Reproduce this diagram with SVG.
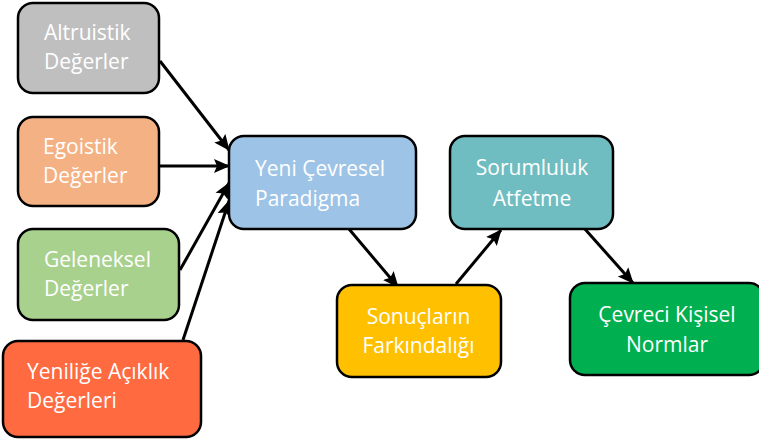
<svg xmlns="http://www.w3.org/2000/svg" width="759" height="442" viewBox="0 0 759 442">
<style>
.box{stroke:#000;stroke-width:2.5}
.t{font-family:"Open Sans","Liberation Sans",sans-serif;font-size:21px;fill:#fff}
.c{text-anchor:middle}
.a{stroke:#000;stroke-width:3;fill:none;marker-end:url(#ah)}
</style>
<defs>
<marker id="ah" markerUnits="userSpaceOnUse" markerWidth="16" markerHeight="16" viewBox="0 0 16 16" refX="15" refY="8" orient="auto">
<path d="M0,1 L16,8 L0,15 L3,8 Z" fill="#000"/>
</marker>
</defs>
<rect width="759" height="442" fill="#fff"/>
<g id="connectors">
<line class="a" x1="160" y1="61" x2="229" y2="150"/>
<line class="a" x1="159" y1="166" x2="229" y2="166"/>
<line class="a" x1="180" y1="270" x2="229" y2="183"/>
<line class="a" x1="183" y1="340" x2="229" y2="201"/>
<line class="a" x1="349" y1="229" x2="398" y2="287"/>
<line class="a" x1="456" y1="284" x2="501" y2="230"/>
<line class="a" x1="584" y1="228" x2="633" y2="283"/>
</g>
<g id="altruistik">
<rect class="box" x="18" y="3" width="141" height="90" rx="15" fill="#BFBFBF"/>
<text class="t" x="44" y="40">Altruistik</text>
<text class="t" x="44" y="69">Değerler</text>
</g>
<g id="egoistik">
<rect class="box" x="18" y="117" width="141" height="89" rx="15" fill="#F4B183"/>
<text class="t" x="43" y="154">Egoistik</text>
<text class="t" x="43" y="183">Değerler</text>
</g>
<g id="geleneksel">
<rect class="box" x="18" y="229" width="161" height="91" rx="15" fill="#A9D18E"/>
<text class="t" x="44" y="267">Geleneksel</text>
<text class="t" x="44" y="296">Değerler</text>
</g>
<g id="yenilige">
<rect class="box" x="3" y="341" width="198" height="96" rx="15" fill="#FF6A40"/>
<text class="t" x="27" y="379">Yeniliğe Açıklık</text>
<text class="t" x="27" y="408">Değerleri</text>
</g>
<g id="yeni-cevresel">
<rect class="box" x="229" y="136" width="187" height="93" rx="15" fill="#9DC3E6"/>
<text class="t" x="255" y="176">Yeni Çevresel</text>
<text class="t" x="255" y="206">Paradigma</text>
</g>
<g id="sonuclarin">
<rect class="box" x="337" y="285" width="164" height="92" rx="15" fill="#FFC000"/>
<text class="t c" x="418.5" y="324">Sonuçların</text>
<text class="t c" x="418.5" y="353">Farkındalığı</text>
</g>
<g id="sorumluluk">
<rect class="box" x="450" y="136" width="163" height="93" rx="15" fill="#6FBDC0"/>
<text class="t c" x="532" y="175">Sorumluluk</text>
<text class="t c" x="532" y="206">Atfetme</text>
</g>
<g id="cevreci">
<rect class="box" x="570" y="283" width="194" height="92" rx="15" fill="#00B050"/>
<text class="t c" x="667" y="322">Çevreci Kişisel</text>
<text class="t c" x="667" y="352">Normlar</text>
</g>
</svg>
